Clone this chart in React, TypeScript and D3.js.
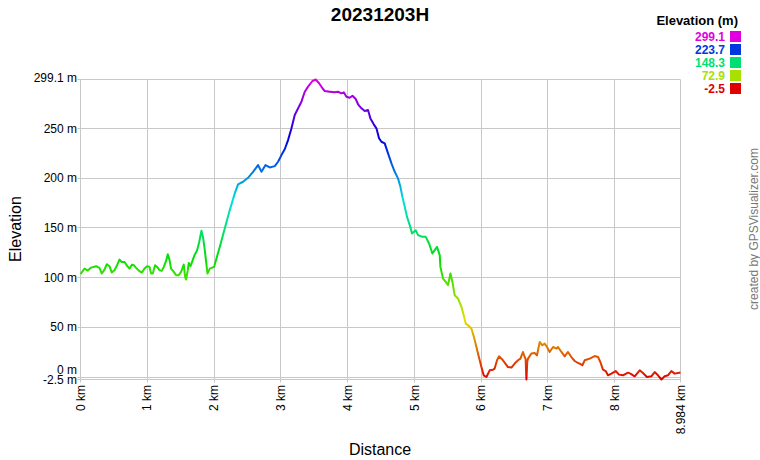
import React from "react";
import * as d3 from "d3";

const title = "20231203H";
const distKm = [
  0, 0.06, 0.109, 0.159, 0.234, 0.284, 0.319, 0.359, 0.394, 0.434, 0.469, 0.509, 0.548, 0.584, 0.618, 0.659,
  0.698, 0.734, 0.772, 0.798, 0.832, 0.883, 0.918, 0.958, 0.997, 1.033, 1.057, 1.082, 1.117, 1.147, 1.183,
  1.217, 1.247, 1.281, 1.307, 1.332, 1.356, 1.397, 1.431, 1.472, 1.506, 1.546, 1.566, 1.581, 1.606, 1.621,
  1.647, 1.671, 1.707, 1.746, 1.775, 1.79, 1.811, 1.836, 1.861, 1.901, 1.936, 2.0, 2.085, 2.16, 2.235, 2.31,
  2.359, 2.434, 2.509, 2.584, 2.659, 2.71, 2.769, 2.834, 2.909, 2.958, 3.009, 3.058, 3.108, 3.159, 3.208,
  3.257, 3.308, 3.358, 3.407, 3.473, 3.522, 3.572, 3.623, 3.657, 3.732, 3.807, 3.856, 3.907, 3.942, 3.982,
  4.031, 4.072, 4.121, 4.156, 4.207, 4.256, 4.305, 4.341, 4.391, 4.431, 4.47, 4.506, 4.555, 4.605, 4.656,
  4.705, 4.754, 4.79, 4.82, 4.855, 4.889, 4.93, 4.964, 5.019, 5.054, 5.12, 5.169, 5.219, 5.269, 5.304, 5.338,
  5.379, 5.389, 5.428, 5.469, 5.503, 5.539, 5.569, 5.603, 5.653, 5.704, 5.738, 5.768, 5.802, 5.853, 5.892,
  5.952, 6.003, 6.037, 6.078, 6.127, 6.177, 6.201, 6.237, 6.266, 6.326, 6.401, 6.452, 6.501, 6.551, 6.587,
  6.626, 6.651, 6.665, 6.677, 6.69, 6.701, 6.751, 6.801, 6.835, 6.876, 6.916, 6.951, 6.985, 7.025, 7.075,
  7.126, 7.15, 7.201, 7.25, 7.299, 7.35, 7.4, 7.449, 7.475, 7.515, 7.549, 7.624, 7.699, 7.749, 7.784, 7.823,
  7.864, 7.898, 7.949, 8.013, 8.063, 8.123, 8.197, 8.234, 8.298, 8.373, 8.422, 8.482, 8.548, 8.597, 8.647,
  8.698, 8.747, 8.796, 8.847, 8.897, 8.984,
];
const elevM = [
  103.4, 109, 107, 110, 111.4, 109.7, 104, 108, 113.4, 111.4, 105, 107.4, 112.4, 118, 115.7, 115.7,
  111.7, 109, 113, 112.4, 109.7, 106.4, 105, 109, 111.4, 110.7, 104, 104, 112.4, 110.7, 107.4,
  106.7, 110.7, 116.7, 123.5, 118, 109, 105.7, 102.4, 102.4, 105.7, 113, 100.6, 98, 107.4, 114.7,
  111.4, 115.7, 122.5, 127.5, 135, 140, 147, 140, 127.5, 104, 109, 110.7, 130.8, 149.4, 167.8, 184.6,
  193.6, 196.3, 200.3, 206.3, 213, 206.3, 213, 210.7, 212, 216.4, 223.1, 229, 238.2, 250, 263.4,
  270, 276.8, 286.8, 291.9, 297.6, 299.1, 295.3, 290.3, 287.5, 286.8, 286.2, 286.8, 285.2, 286.2, 281.8,
  280.8, 282.8, 279.5, 274.2, 270.1, 267.4, 268.4, 260, 254, 250, 240, 236.5, 234.9, 224.8, 214.8,
  206.3, 199.7, 191.2, 181.2, 171.1, 161, 152.7, 144.3, 147.6, 142.6, 140.9, 140.9, 134.3, 124.2, 127.5, 130.8,
  122.5, 110.7, 99, 95.6, 92.3, 104, 95.6, 82.2, 78.9, 70.5, 62.1, 53.7, 52, 48.7, 40,
  23.6, 10, 1.7, 0, 6.7, 7.4, 8.5, 16.8, 20.8, 16.8, 10, 9.5, 13.5, 16.8, 18.5,
  25.2, 20.1, 18, -2.5, 16, 18.5, 23.6, 24.2, 21.8, 35.2, 31.9, 33.6, 30.2, 25.2, 30.2,
  28.6, 30.2, 25.2, 20.8, 25.2, 20.1, 16.1, 14.1, 13.5, 11.8, 16.8, 18.5, 21.1, 20.1, 15.1, 7.4,
  6, 1.7, 3.4, 6, 2.4, 1.7, 4.4, 3.4, 0.7, 6.7, 4, 0, 0.7, 5, 1.7,
  -2.5, 0.7, 1.7, 6, 3.4, 4.5,
];
const yTicks = [-2.5, 0, 50, 100, 150, 200, 250, 299.1];
const yTickLabels = ["-2.5 m", "0 m", "50 m", "100 m", "150 m", "200 m", "250 m", "299.1 m"];
const xTicks = [0, 1, 2, 3, 4, 5, 6, 7, 8, 8.984];
const xTickLabels = ["0 km", "1 km", "2 km", "3 km", "4 km", "5 km", "6 km", "7 km", "8 km", "8.984 km"];
const legendValues = [299.1, 223.7, 148.3, 72.9, -2.5];
const legendLabels = ["299.1", "223.7", "148.3", "72.9", "-2.5"];

const FONT = "'Liberation Sans', Arial, sans-serif";

export default function App() {
  const W = 760, H = 460;
  const x = d3.scaleLinear().domain([0, 8.984]).range([80.5, 680.5]);
  const y = d3.scaleLinear().domain([-2.5, 299.1]).range([379.5, 79.5]);
  const minE = -2.5, maxE = 299.1;
  const color = (e: number) => d3.hsl(((e - minE) / (maxE - minE)) * 300, 1, 0.44).formatHex();
  const pts = distKm.map((d, i) => [d, elevM[i]] as [number, number]);
  const line = d3.line<[number, number]>().x((d) => x(d[0])).y((d) => y(d[1]));
  const stops = d3.range(0, 31).map((i) => i / 30);
  const snap = (v: number) => Math.round(v - 0.5) + 0.5;
  const gridColor = "#c8c8c8";
  const yLabelShift = (t: number) => (t === 0 ? -7 : t === -2.5 ? 0 : t === 299.1 ? -2 : 0);

  return (
    <svg width={W} height={H} style={{ position: "absolute", left: 0, top: 0 }} fontFamily={FONT}>
      <defs>
        <linearGradient id="elevGrad" gradientUnits="userSpaceOnUse" x1={0} x2={0} y1={y(maxE)} y2={y(minE)}>
          {stops.map((t) => (
            <stop key={t} offset={t} stopColor={color(maxE - t * (maxE - minE))} />
          ))}
        </linearGradient>
      </defs>
      <rect x={0} y={0} width={W} height={H} fill="#fff" />
      <text x={380} y={21} textAnchor="middle" fontWeight="bold" fontSize={19} fill="#000">{title}</text>

      {yTicks.map((t) => (
        <line key={"gy" + t} x1={snap(x(0)) - 3} x2={snap(x(8.984))} y1={snap(y(t))} y2={snap(y(t))} stroke={gridColor} strokeWidth={1} />
      ))}
      {xTicks.map((t) => (
        <line key={"gx" + t} x1={snap(x(t))} x2={snap(x(t))} y1={snap(y(maxE))} y2={snap(y(minE)) + 3} stroke={gridColor} strokeWidth={1} />
      ))}

      {yTicks.map((t, i) => (
        <text key={"ly" + t} x={77} y={y(t) + yLabelShift(t)} dy="0.35em" textAnchor="end" fontSize={12} fill="#000">
          {yTickLabels[i]}
        </text>
      ))}
      {xTicks.map((t, i) => (
        <text key={"lx" + t} transform={`translate(${x(t)},385) rotate(-90)`} dy="0.35em" textAnchor="end" fontSize={12} fill="#000">
          {xTickLabels[i]}
        </text>
      ))}

      <path d={line(pts) || ""} fill="none" stroke="url(#elevGrad)" strokeWidth={2} strokeLinejoin="round" />

      <text transform="translate(21,229) rotate(-90)" textAnchor="middle" fontSize={16} fill="#000">Elevation</text>
      <text x={380} y={455} textAnchor="middle" fontSize={16} fill="#000">Distance</text>

      <text x={738} y={25} textAnchor="end" fontWeight="bold" fontSize={13} fill="#000">Elevation (m)</text>
      {legendValues.map((v, i) => (
        <g key={"lg" + i}>
          <rect x={730} y={31 + i * 13} width={11} height={11} fill={color(v)} />
          <text x={725} y={41 + i * 13} textAnchor="end" fontWeight="bold" fontSize={12} fill={color(v)}>{legendLabels[i]}</text>
        </g>
      ))}

      <text transform="translate(758,229) rotate(-90)" textAnchor="middle" fontSize={12} fill="#777">created by GPSVisualizer.com</text>
    </svg>
  );
}
